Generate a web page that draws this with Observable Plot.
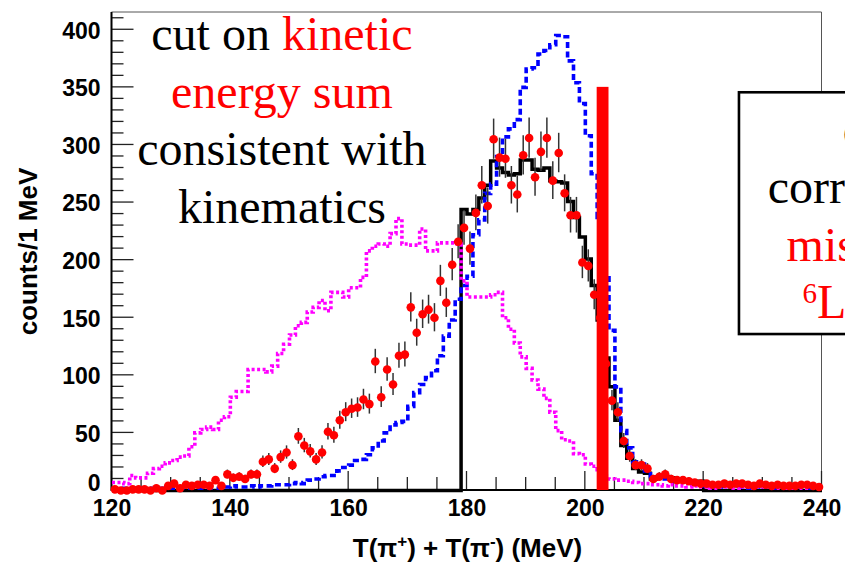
<!DOCTYPE html>
<html>
<head>
<meta charset="utf-8">
<script src="https://cdn.jsdelivr.net/npm/d3@7"></script>
<script src="https://cdn.jsdelivr.net/npm/@observablehq/plot@0.6"></script>
<style>
  html, body { margin: 0; padding: 0; background: #fff; overflow: hidden; }
  #chart svg { display: block; }
</style>
</head>
<body>
<div id="chart"></div>
<script>
// Histograms of T(pi+) + T(pi-) in 1 MeV bins, 120 ... 240 MeV
const binStart = 120;
const binWidth = 1;

// Phase-space simulation (magenta, dotted)
const phaseSpace = [
  7, 7, 6, 13, 11, 11, 15, 19, 21, 24,
  26, 29, 30, 38, 50, 53, 55, 53, 61, 64,
  81, 86, 86, 105, 105, 105, 103, 108, 119, 127,
  135, 143, 146, 155, 159, 165, 156, 172, 172, 168,
  176, 176, 185, 208, 212, 214, 212, 223, 236, 214,
  213, 213, 227, 208, 208, 215, 215, 215, 214, 182,
  168, 168, 168, 168, 170, 172, 150, 140, 128, 116,
  106, 96, 88, 80, 68, 52, 44, 43, 32, 31,
  23, 21, 18, 13, 10, 9, 9, 8, 7, 6,
  6, 5, 5, 4, 5, 4, 4, 3, 4, 3,
  3, 2, 3, 3, 4, 2, 3, 3, 2, 3,
  3, 2, 2, 3, 2, 3, 2, 2, 3, 4
];

// Reaction simulation (blue, dashed)
const simulation = [
  2, 2, 2, 2, 2, 2, 2, 2, 2, 2,
  2, 2, 2, 2, 2, 2, 2, 2, 2, 3,
  4, 3, 3, 4, 3, 4, 4, 5, 5, 5,
  6, 7, 6, 9, 10, 12, 13, 13, 17, 20,
  22, 26, 27, 31, 37, 43, 50, 57, 59, 60,
  73, 85, 92, 98, 104, 117, 134, 148, 166, 178,
  186, 222, 235, 258, 266, 290, 307, 314, 322, 350,
  366, 367, 379, 382, 387, 395, 394, 373, 354, 336,
  308, 275, 237, 187, 139, 90, 52, 37, 25, 23,
  17, 12, 11, 10, 9, 8, 8, 7, 7, 6,
  4, 3, 3, 4, 3, 3, 3, 2, 3, 3,
  3, 2, 3, 3, 2, 3, 3, 2, 3, 3
];

// Simulation after the kinetic energy sum cut (black, solid)
const simulationCut = [
  0, 0, 0, 0, 0, 0, 0, 0, 0, 0,
  0, 0, 0, 0, 0, 0, 0, 0, 0, 0,
  0, 0, 0, 0, 0, 0, 0, 0, 0, 0,
  0, 0, 0, 0, 0, 0, 0, 0, 0, 0,
  0, 0, 0, 0, 0, 0, 0, 0, 0, 0,
  0, 0, 0, 0, 0, 0, 0, 0, 0, 244,
  240, 244, 254, 265, 286, 280, 276, 274, 275, 287,
  287, 279, 278, 280, 269, 268, 267, 251, 237, 220,
  201, 178, 148, 115, 90, 61, 39, 28, 19, 16,
  15, 10, 12, 12, 11, 8, 8, 8, 8, 8,
  0, 0, 0, 0, 0, 0, 0, 0, 0, 0,
  0, 0, 0, 0, 0, 0, 0, 0, 0, 0
];

// Measured counts per bin (red points)
const measured = [
  1, 0, 0, 1, 1, 1, 0, 2, 0, 4,
  6, 2, 5, 4, 5, 5, 4, 9, 4, 14,
  11, 12, 10, 14, 14, 25, 27, 19, 29, 33,
  22, 47, 39, 34, 27, 33, 51, 48, 61, 68,
  71, 72, 79, 75, 112, 81, 105, 92, 117, 118,
  159, 137, 153, 157, 150, 182, 163, 196, 216, 228,
  210, 241, 265, 247, 305, 289, 288, 265, 257, 291,
  306, 272, 294, 306, 269, 293, 258, 239, 239, 198,
  195, 170, 150, 110, 78, 68, 43, 30, 22, 22,
  19, 10, 12, 14, 10, 9, 9, 8, 7, 6,
  6, 5, 5, 6, 5, 6, 6, 5, 4, 6,
  5, 4, 5, 4, 4, 4, 5, 5, 4, 3
];

// Kinetic energy sum window
const cutLow = 202;
const cutHigh = 204;
const cutTop = 350;

// Axis ticks
const xTicks = [120, 140, 160, 180, 200, 220, 240];
const xMinorStep = 5;
const yTicks = [0, 50, 100, 150, 200, 250, 300, 350, 400];
const yMinorStep = 10;
const xDomain = [120, 240];
const yDomain = [0, 415];

// Annotation text
const leftNote = [
  [["cut on ", "#000"], ["kinetic", "#ff0000"]],
  [["energy sum", "#ff0000"]],
  [["consistent with", "#000"]],
  [["kinematics", "#000"]]
];
const boxNote = [
  {text: "cut on", fill: "#000"},
  {text: "correlated with", fill: "#000"},
  {text: "missing mass", fill: "#ff0000"},
  {text: "Li", sup: "6", fill: "#ff0000"}
];

const RED = "#ff0000";
const BLUE = "#0000ff";
const MAGENTA = "#ff00ff";
const edges = measured.map((_, i) => binStart + i * binWidth);

function stepRows(values) {
  const rows = values.map((v, i) => ({x: edges[i], y: v}));
  rows.push({x: edges[edges.length - 1] + binWidth, y: values[values.length - 1]});
  return rows;
}

const points = measured.map((v, i) => ({
  x: edges[i] + binWidth / 2,
  y: v,
  err: Math.sqrt(v) // Poisson uncertainty on the counts
}));

// Inward ROOT-style ticks, axis lines and the frame
function frameAndTicks(index, {x, y}) {
  const g = d3.create("svg:g");
  const x0 = x(xDomain[0]), x1 = x(xDomain[1]);
  const y0 = y(yDomain[0]), y1 = y(yDomain[1]);
  g.append("path")
    .attr("d", `M${x0},${y1}H${x1}V${y0}`)
    .attr("fill", "none").attr("stroke", "#555").attr("stroke-width", 1);
  for (let t = xDomain[0]; t <= xDomain[1]; t += xMinorStep) {
    const len = xTicks.includes(t) ? 19 : 13;
    g.append("line")
      .attr("x1", x(t)).attr("x2", x(t)).attr("y1", y0).attr("y2", y0 - len)
      .attr("stroke", "#222").attr("stroke-width", 1.3);
  }
  for (let t = yDomain[0]; t <= yDomain[1]; t += yMinorStep) {
    const len = yTicks.includes(t) ? 22 : 12;
    g.append("line")
      .attr("x1", x0).attr("x2", x0 + len).attr("y1", y(t)).attr("y2", y(t))
      .attr("stroke", "#222").attr("stroke-width", 1.3);
  }
  g.append("line").attr("x1", x0).attr("x2", x0).attr("y1", y0 + 1).attr("y2", y1)
    .attr("stroke", "#000").attr("stroke-width", 2);
  g.append("line").attr("x1", x0).attr("x2", x1).attr("y1", y0).attr("y2", y0)
    .attr("stroke", "#000").attr("stroke-width", 2);
  return g.node();
}

function annotations(index, {x, y}) {
  const g = d3.create("svg:g");
  const serif = "'Liberation Serif', 'Times New Roman', Times, serif";

  // Left note, centred lines
  const noteCenter = 148.8;
  const noteBaselines = [381.8, 331.9, 282, 232.1];
  leftNote.forEach((parts, i) => {
    const t = g.append("text")
      .attr("x", x(noteCenter)).attr("y", y(noteBaselines[i]))
      .attr("text-anchor", "middle")
      .attr("font-family", serif).attr("font-size", 48).attr("font-weight", "normal")
      .style("white-space", "pre");
    parts.forEach(([s, c]) => t.append("tspan").attr("fill", c).text(s));
  });

  // Boxed note on the right
  const bx = x(226.05), by = y(345.3), bb = y(135.4);
  g.append("rect")
    .attr("x", bx).attr("y", by).attr("width", 200).attr("height", bb - by)
    .attr("fill", "#fff").attr("stroke", "#000").attr("stroke-width", 2.6);
  const boxStarts = [243.6, 230.9, 234.1, 236.8];
  const boxBaselines = [298.8, 248.8, 199.1, 149.2];
  boxNote.forEach((d, i) => {
    const t = g.append("text")
      .attr("x", x(boxStarts[i])).attr("y", y(boxBaselines[i]))
      .attr("text-anchor", "start")
      .attr("font-family", serif).attr("font-size", 48).attr("font-weight", "normal")
      .attr("fill", d.fill);
    if (d.sup) {
      t.append("tspan").attr("font-size", 29).attr("dy", -15).text(d.sup);
      t.append("tspan").attr("dy", 15).text(d.text);
    } else {
      t.text(d.text);
    }
  });

  // Axis titles
  const sans = "'Liberation Sans', Arial, Helvetica, sans-serif";
  const xt = g.append("text")
    .attr("x", 467.5).attr("y", 557)
    .attr("text-anchor", "middle")
    .attr("font-family", sans).attr("font-size", 26).attr("font-weight", "bold")
    .attr("fill", "#000");
  xt.append("tspan").text("T(\u03c0");
  xt.append("tspan").attr("font-size", 17).attr("dy", -10).text("+");
  xt.append("tspan").attr("dy", 10).text(") + T(\u03c0");
  xt.append("tspan").attr("font-size", 17).attr("dy", -10).text("-");
  xt.append("tspan").attr("dy", 10).text(") (MeV)");

  g.append("text")
    .attr("transform", "translate(37,251.5) rotate(-90)")
    .attr("text-anchor", "middle")
    .attr("font-family", sans).attr("font-size", 26).attr("font-weight", "bold")
    .attr("fill", "#000")
    .text("counts/1 MeV");
  return g.node();
}

// Butt caps keep the dash gaps open
const lineStyle = {x: "x", y: "y", curve: "step-after", strokeLinecap: "butt", strokeLinejoin: "miter", strokeMiterlimit: 4};

const chart = Plot.plot({
  width: 845,
  height: 567,
  marginLeft: 111.5,
  marginRight: 23.5,
  marginTop: 12,
  marginBottom: 77,
  style: {
    fontFamily: "'Liberation Sans', Arial, Helvetica, sans-serif",
    fontSize: "23px",
    fontWeight: "bold",
    color: "#000",
    background: "#fff",
    overflow: "hidden"
  },
  x: {domain: xDomain, ticks: xTicks, tickSize: 0, tickPadding: 9, label: null},
  y: {domain: yDomain, axis: null},
  marks: [
    frameAndTicks,
    Plot.line(stepRows(simulationCut), {...lineStyle, stroke: "#000", strokeWidth: 3.5}),
    Plot.line(stepRows(simulation), {...lineStyle, stroke: BLUE, strokeWidth: 3.6, strokeDasharray: "6,3.5"}),
    Plot.line(stepRows(phaseSpace), {...lineStyle, stroke: MAGENTA, strokeWidth: 3.6, strokeDasharray: "3,2.5"}),
    Plot.ruleX(points, {x: "x", y1: d => Math.max(0, d.y - d.err), y2: d => d.y + d.err, stroke: "#333", strokeWidth: 1.5}),
    Plot.dot(points, {x: "x", y: "y", r: 4.3, fill: RED, stroke: "none"}),
    Plot.rect([{x1: cutLow, x2: cutHigh, y1: 0, y2: cutTop}], {x1: "x1", x2: "x2", y1: "y1", y2: "y2", fill: RED}),
    // y tick labels (the zero label sits a little above the axis)
    Plot.text(yTicks.filter(t => t !== 0), {x: xDomain[0], y: d => d, text: d => `${d}`, textAnchor: "end", dx: -11.5, dy: 1.5, fill: "#000"}),
    Plot.text(yTicks.filter(t => t === 0), {x: xDomain[0], y: d => d, text: d => `${d}`, textAnchor: "end", dx: -11.5, dy: -7, fill: "#000"}),
    annotations
  ]
});

document.getElementById("chart").appendChild(chart);
</script>
</body>
</html>
